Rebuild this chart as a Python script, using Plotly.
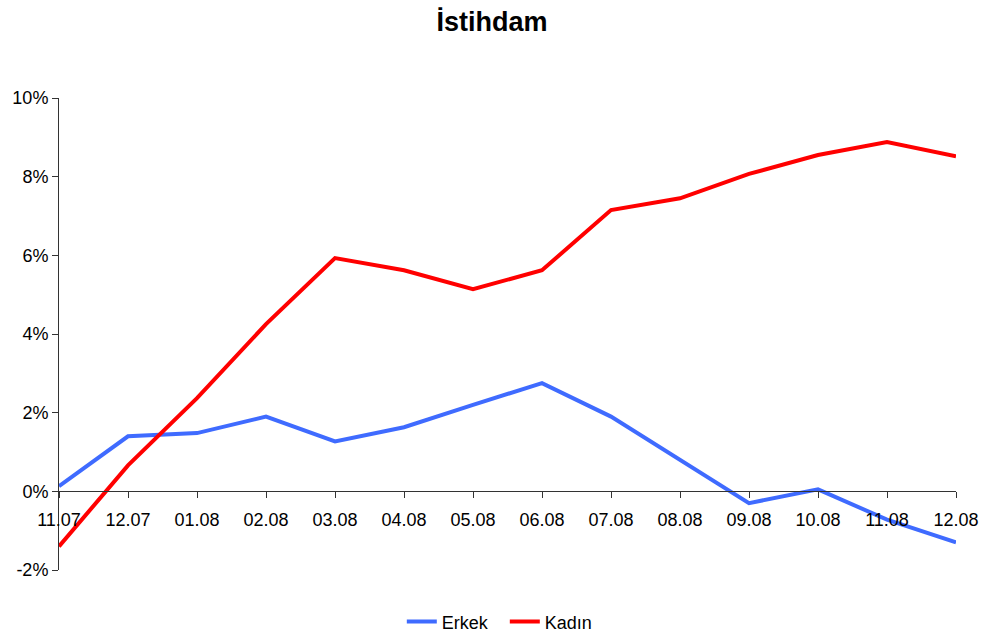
import plotly.graph_objects as go

categories = ["11.07", "12.07", "01.08", "02.08", "03.08", "04.08", "05.08",
              "06.08", "07.08", "08.08", "09.08", "10.08", "11.08", "12.08"]
erkek = [0.13, 1.40, 1.48, 1.90, 1.27, 1.63, 2.20, 2.75, 1.90, 0.80, -0.30, 0.05, -0.72, -1.30]
kadin = [-1.40, 0.66, 2.37, 4.25, 5.93, 5.62, 5.14, 5.62, 7.15, 7.45, 8.07, 8.55, 8.88, 8.52]
y_tickvals = [-2, 0, 2, 4, 6, 8, 10]
y_ticktext = ["-2%", "0%", "2%", "4%", "6%", "8%", "10%"]

x_idx = list(range(len(categories)))

fig = go.Figure()
fig.add_trace(go.Scatter(x=x_idx, y=erkek, mode="lines", name="Erkek",
                         line=dict(color="#3F6BFF", width=4)))
fig.add_trace(go.Scatter(x=x_idx, y=kadin, mode="lines", name="Kadın",
                         line=dict(color="#FF0000", width=4)))

ymin, ymax = -2, 10
zero_pos = (0 - ymin) / (ymax - ymin)

fig.update_layout(
    width=984, height=637,
    margin=dict(l=59, r=28, t=98, b=67, autoexpand=False),
    paper_bgcolor="white", plot_bgcolor="white",
    font=dict(family="Arial, Liberation Sans, sans-serif", size=18, color="black"),
    title=dict(text="<b>İstihdam</b>", x=0.5, xanchor="center", y=0.9655, yanchor="middle",
               font=dict(size=27, color="black")),
    showlegend=True,
    legend=dict(orientation="h", x=0.497, xanchor="center", y=-0.11, yanchor="middle",
                font=dict(size=18), itemwidth=30, tracegroupgap=0,
                entrywidth=58, entrywidthmode="pixels"),
    xaxis=dict(
        range=[0, len(categories) - 1],
        tickmode="array", tickvals=x_idx, ticktext=categories,
        showgrid=False, zeroline=False, automargin=False,
        showline=True, linecolor="#333", linewidth=1,
        ticks="outside", ticklen=6, tickcolor="#333",
        anchor="free", position=zero_pos,
        ticklabelstandoff=6, ticklabeloverflow="allow",
    ),
    yaxis=dict(
        range=[ymin, ymax], tickmode="array", tickvals=y_tickvals, ticktext=y_ticktext,
        showgrid=False, zeroline=False, automargin=False,
        showline=True, linecolor="#333", linewidth=1,
        ticks="outside", ticklen=6, tickcolor="#333",
    ),
)

fig.write_html("out.html", config={"displayModeBar": False},
               post_script="document.body.style.margin='0';")
